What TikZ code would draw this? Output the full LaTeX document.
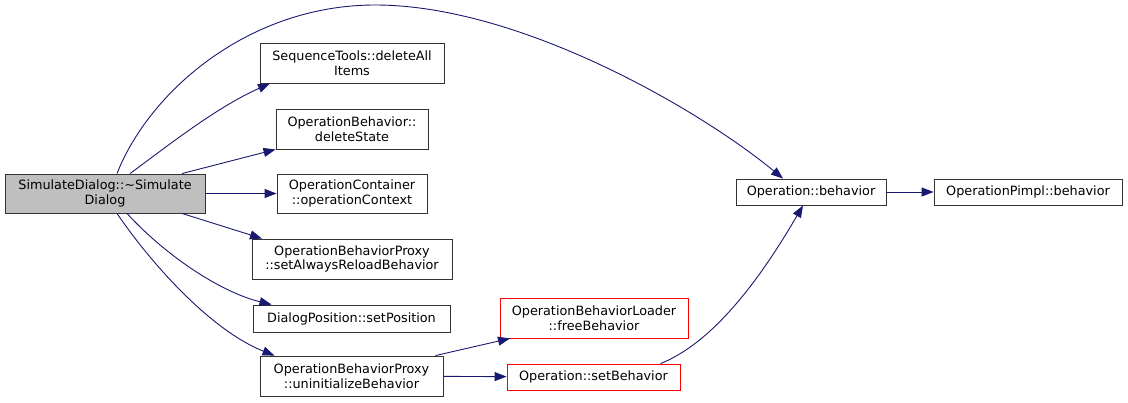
\documentclass[tikz,border=0pt]{standalone}
\usepackage{fontspec}
\setmainfont{DejaVu Sans}
\usetikzlibrary{arrows.meta}
\definecolor{edgeblue}{RGB}{25, 25, 112}
\definecolor{rootgray}{RGB}{191, 191, 191}
\tikzset{
  fn/.style={draw=black!80, line width=0.9pt, fill=white, align=center, inner sep=0pt,
    font=\fontsize{12.8}{14.7}\selectfont},
  fnred/.style={fn, draw=red},
  edge/.style={draw=edgeblue, line width=0.9pt, -{Triangle[length=12pt, width=9pt]}}
}

\begin{document}
\begin{tikzpicture}[x=1pt, y=-1pt]
			\useasboundingbox (0, 0) rectangle (1128, 403);
			% called functions
			\node [fn, fill=rootgray, minimum width=200pt, minimum height=39pt] (main) at (105, 193.5) {SimulateDialog::\textasciitilde Simulate\\Dialog};
			\node [fn, minimum width=184pt, minimum height=40pt] (seq) at (352, 63) {SequenceTools::deleteAll\\Items};
			\node [fn, minimum width=152pt, minimum height=40pt] (dstate) at (352, 129) {OperationBehavior::\\deleteState};
			\node [fn, minimum width=150pt, minimum height=39pt] (ctx) at (352, 193.5) {OperationContainer\\::operationContext};
			\node [fn, minimum width=200pt, minimum height=40pt] (always) at (352, 259) {OperationBehaviorProxy\\::setAlwaysReloadBehavior};
			\node [fn, minimum width=197pt, minimum height=27pt] (setpos) at (351.5, 318.5) {DialogPosition::setPosition};
			\node [fn, minimum width=183pt, minimum height=40pt] (uninit) at (351.5, 376) {OperationBehaviorProxy\\::uninitializeBehavior};
			\node [fnred, minimum width=188pt, minimum height=40pt] (free) at (594, 318) {OperationBehaviorLoader\\::freeBehavior};
			\node [fnred, minimum width=173pt, minimum height=26pt] (setbeh) at (593.5, 377) {Operation::setBehavior};
			\node [fn, minimum width=150pt, minimum height=26pt] (beh) at (811, 192) {Operation::behavior};
			\node [fn, minimum width=188pt, minimum height=26pt] (pimpl) at (1028, 192) {OperationPimpl::behavior};
			% calls
			\draw [edge] ([xshift=12pt]main.north) .. controls (150, 90) and (250, 5) .. (375, 5) .. controls (520, 5) and (700, 110) .. ([xshift=-28pt]beh.north);
			\draw [edge] ([xshift=25pt]main.north) .. controls (165, 148) and (215, 108) .. ([xshift=-82pt]seq.south);
			\draw [edge] ([xshift=77pt]main.north) -- (dstate.south west);
			\draw [edge] (main) -- (ctx);
			\draw [edge] ([xshift=77pt]main.south) -- ([xshift=-90pt]always.north);
			\draw [edge] ([xshift=22pt]main.south) .. controls (165, 255) and (220, 292) .. ([xshift=-80pt]setpos.north);
			\draw [edge] ([xshift=12pt]main.south) .. controls (150, 262) and (210, 330) .. ([xshift=-77pt]uninit.north);
			\draw [edge] ([xshift=84pt]uninit.north) -- ([xshift=-84pt]free.south);
			\draw [edge] (uninit) -- (setbeh);
			\draw [edge] ([xshift=67pt]setbeh.north) .. controls (720, 340) and (770, 262) .. ([xshift=-8pt]beh.south);
			\draw [edge] (beh) -- (pimpl);
		\end{tikzpicture}
\end{document}
